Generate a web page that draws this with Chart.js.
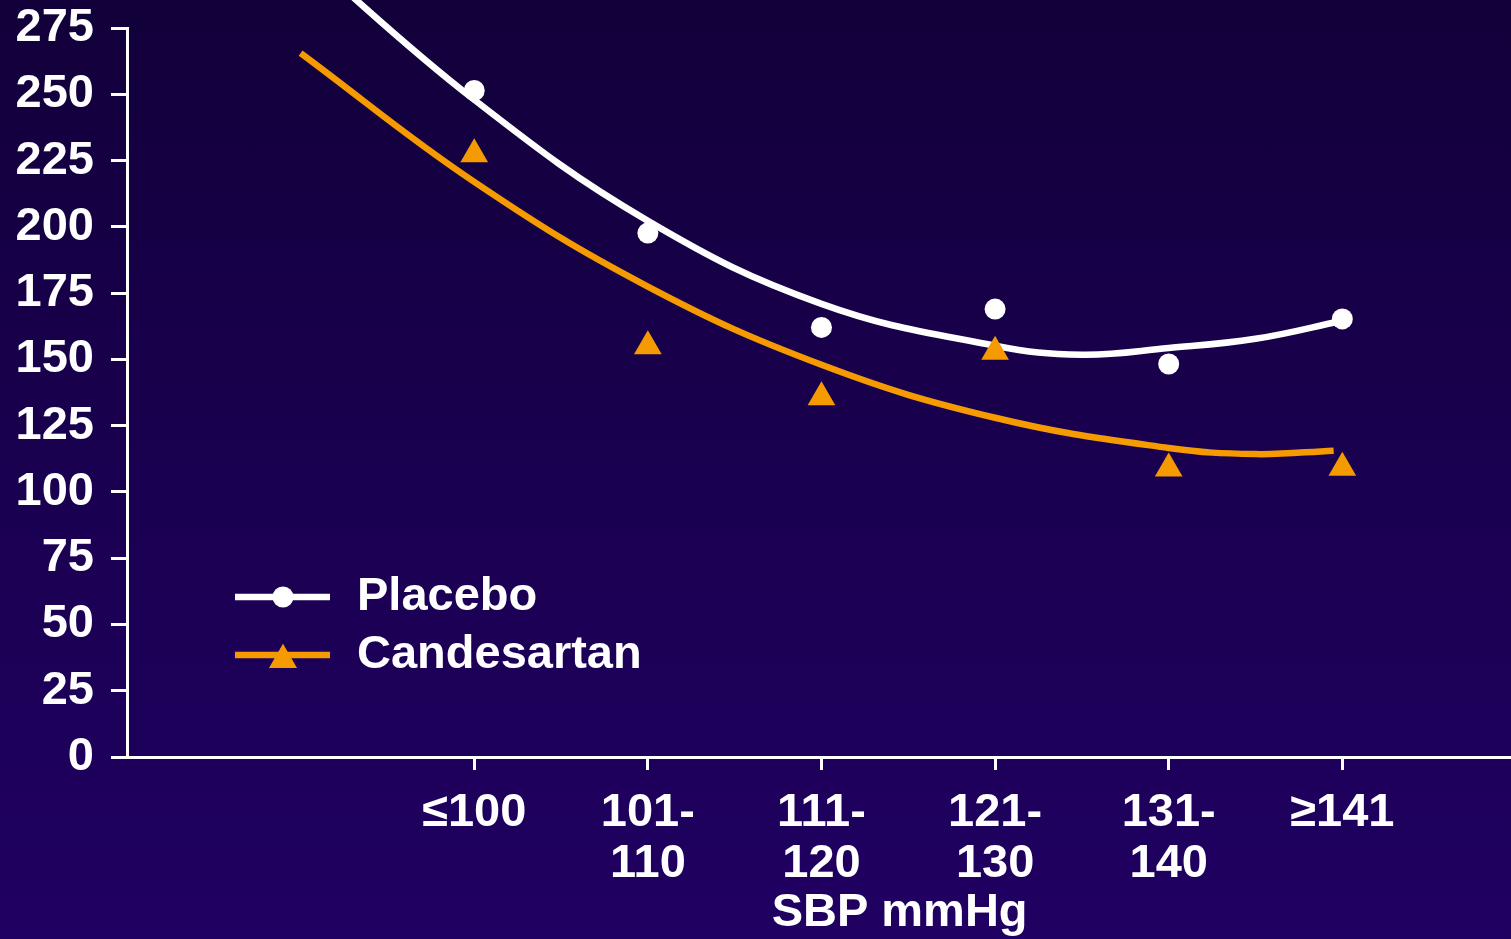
<!DOCTYPE html>
<html>
<head>
<meta charset="utf-8">
<script src="https://cdn.jsdelivr.net/npm/chart.js@4/dist/chart.umd.min.js"></script>
<style>
  html, body { margin: 0; padding: 0; width: 1511px; height: 939px; overflow: hidden;
    background: linear-gradient(to bottom, #12003a 0%, #1a0050 50%, #200062 100%); }
  #wrap { position: relative; width: 1511px; height: 939px; overflow: hidden; }
  canvas { display: block; position: absolute; left: 0; top: -17px; }
</style>
</head>
<body>
<div id="wrap"><canvas id="c" width="1525" height="956"></canvas></div>
<script>
// ---- data ----
const categories = ["\u2264100", ["101-", "110"], ["111-", "120"], ["121-", "130"], ["131-", "140"], "\u2265141"];
const categoryPositions = [2, 3, 4, 5, 6, 7];
const placeboValues = [251.5, 197.7, 162.1, 169.0, 148.3, 165.3];
const candesartanValues = [227.4, 155.0, 135.7, 152.9, 108.9, 109.1];
// fitted trend curves (x position, value)
const placeboTrendX = [1.0, 2.0, 3.0, 4.0, 5.0, 5.5, 6.0, 6.5, 7.0];
const placeboTrendY = [304, 248, 202.3, 171, 155.2, 151.8, 154.3, 157.8, 164.6];
const candTrendX = [1.0, 2.0, 3.0, 4.0, 5.0, 6.0, 6.5, 6.95];
const candTrendY = [265.6, 217, 177.5, 148, 128, 116.6, 114.3, 115.6];
const yTicks = [0, 25, 50, 75, 100, 125, 150, 175, 200, 225, 250, 275];
const seriesNames = ["Placebo", "Candesartan"];
const xTitle = "SBP mmHg";

const WHITE = "#ffffff";
const ORANGE = "#f59a00";
const FONT = "'Liberation Sans', Arial, sans-serif";
const OFF_Y = 17; // canvas is shifted up by this many px

const pts = (xs, ys) => xs.map((x, i) => ({ x: x, y: ys[i] }));

const legendPlugin = {
  id: 'customLegend',
  afterDraw(chart) {
    const ctx = chart.ctx;
    ctx.save();
    const lx0 = 235, lx1 = 330, mx = 283;
    const rows = [
      { y: 597 + OFF_Y, color: WHITE, style: 'circle', name: seriesNames[0] },
      { y: 655 + OFF_Y, color: ORANGE, style: 'triangle', name: seriesNames[1] }
    ];
    rows.forEach(r => {
      ctx.strokeStyle = r.color;
      ctx.lineWidth = 6.5;
      ctx.beginPath(); ctx.moveTo(lx0, r.y); ctx.lineTo(lx1, r.y); ctx.stroke();
      ctx.fillStyle = r.color;
      if (r.style === 'circle') {
        ctx.beginPath(); ctx.arc(mx, r.y, 10.5, 0, Math.PI * 2); ctx.fill();
      } else {
        Chart.helpers.drawPoint(ctx, { pointStyle: 'triangle', radius: 16, rotation: 0, borderWidth: 0 }, mx, r.y + 5);
        ctx.fill();
      }
      ctx.fillStyle = WHITE;
      ctx.font = "bold 47px " + FONT;
      ctx.textBaseline = 'middle';
      ctx.textAlign = 'left';
      ctx.fillText(r.name, 357, r.y);
    });
    ctx.font = "bold 47px " + FONT;
    ctx.textAlign = 'center';
    ctx.textBaseline = 'middle';
    ctx.fillStyle = WHITE;
    ctx.fillText(xTitle, chart.scales.x.getPixelForValue(4.45), 913 + OFF_Y);
    ctx.restore();
  }
};

new Chart(document.getElementById('c'), {
  type: 'scatter',
  data: {
    datasets: [
      { label: seriesNames[0], data: pts(categoryPositions, placeboValues), showLine: false,
        pointStyle: 'circle', pointRadius: 10.5, pointBackgroundColor: WHITE, pointBorderWidth: 0, order: 1 },
      { label: seriesNames[1], data: pts(categoryPositions, candesartanValues), showLine: false,
        pointStyle: 'triangle', pointRadius: 16, pointBackgroundColor: ORANGE, pointBorderWidth: 0, order: 1 },
      { label: seriesNames[0] + ' trend', data: pts(placeboTrendX, placeboTrendY), showLine: true,
        borderColor: WHITE, borderWidth: 6.5, pointRadius: 0, tension: 0.4, clip: false, order: 2 },
      { label: seriesNames[1] + ' trend', data: pts(candTrendX, candTrendY), showLine: true,
        borderColor: ORANGE, borderWidth: 6.5, pointRadius: 0, tension: 0.4, clip: false, order: 2 }
    ]
  },
  options: {
    responsive: false,
    animation: false,
    events: [],
    layout: { padding: { top: 11, right: 0, left: 0, bottom: 0 } },
    plugins: { legend: { display: false }, tooltip: { enabled: false } },
    scales: {
      x: {
        type: 'linear', min: 0, max: 7.96, offset: false,
        afterBuildTicks(scale) { scale.ticks = categoryPositions.map(v => ({ value: v })); },
        afterFit(scale) { scale.height = 182; },
        grid: { drawOnChartArea: false, color: WHITE, tickColor: WHITE, tickLength: 13, tickWidth: 3, lineWidth: 3 },
        border: { color: WHITE, width: 3 },
        ticks: {
          color: WHITE, padding: 18, maxRotation: 0, autoSkip: false,
          font: { family: FONT, size: 47, weight: 'bold', lineHeight: 1.08 },
          callback(v) { const i = categoryPositions.indexOf(v); return i >= 0 ? categories[i] : ''; }
        }
      },
      y: {
        min: 0, max: 275,
        afterBuildTicks(scale) { scale.ticks = yTicks.map(v => ({ value: v })); },
        afterFit(scale) { scale.width = 127; },
        grid: { drawOnChartArea: false, color: WHITE, tickColor: WHITE, tickLength: 16, tickWidth: 3, lineWidth: 3 },
        border: { color: WHITE, width: 3 },
        ticks: { color: WHITE, padding: 17, font: { family: FONT, size: 47, weight: 'bold' } }
      }
    }
  },
  plugins: [legendPlugin]
});
</script>
</body>
</html>
